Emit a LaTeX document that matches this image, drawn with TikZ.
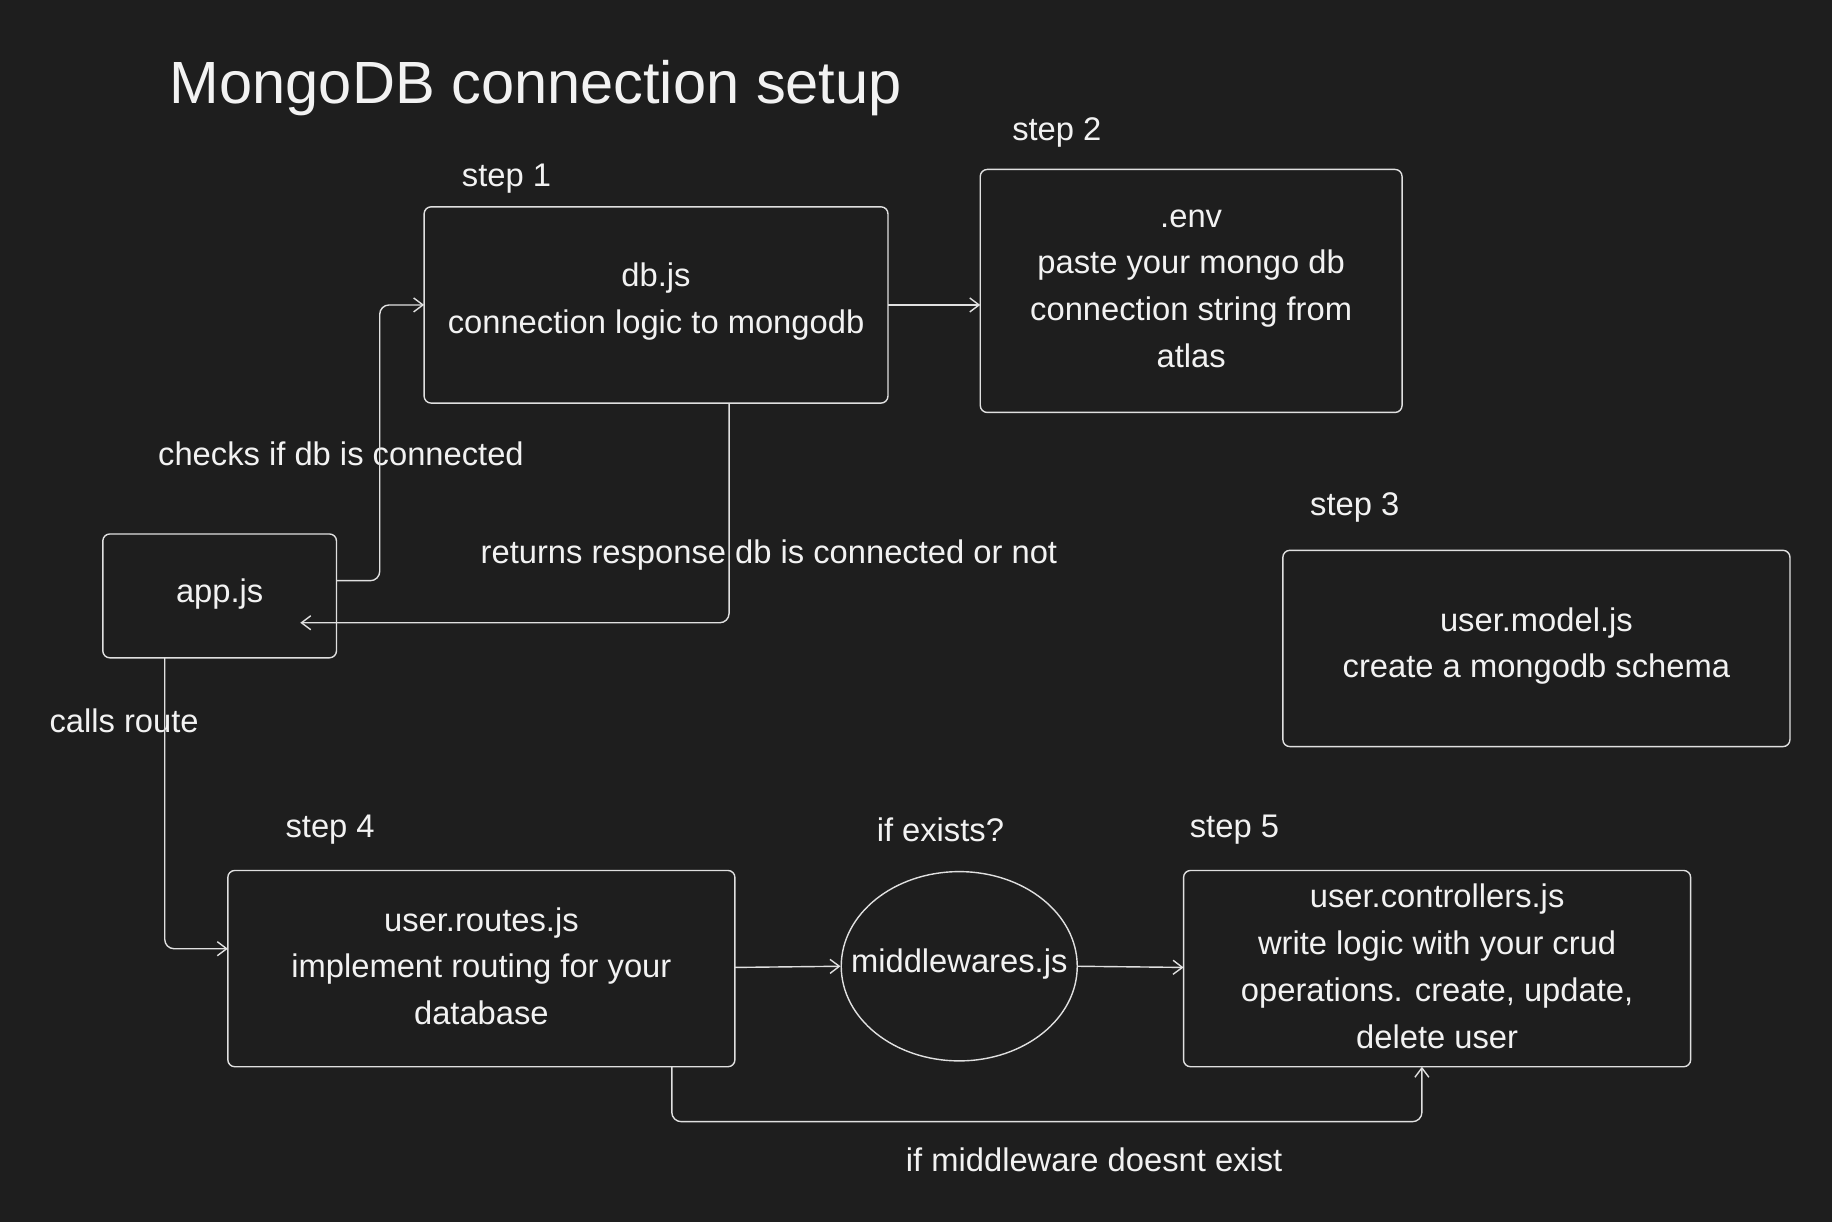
\documentclass[tikz,border=0pt]{standalone}
\usepackage{fontspec}
\setmainfont{Liberation Sans}
\usetikzlibrary{arrows.meta,shapes.geometric}
\begin{document}
\begin{tikzpicture}[x=0.5pt,y=-0.5pt,
  every node/.style={text=white!95!black,font=\fontsize{14}{20}\selectfont},
  box/.style={draw=white!88!black,line width=0.6pt,rounded corners=3pt},
  lbl/.style={anchor=west,inner sep=0},
  conn/.style={draw=white!88!black,line width=0.6pt,rounded corners=4pt,-{Straight Barb[length=4pt,width=6pt]}}]
\fill[fill={rgb,255:red,30;green,30;blue,30}] (0,0) rectangle (1568,1046);
\useasboundingbox (0,0) rectangle (1568,1046);
\node[lbl,font=\fontsize{25.5}{28}\selectfont] (title) at (145,75) {MongoDB connection setup};
\node[lbl] (s1) at (395,153) {step 1};
\node[lbl] (s2) at (866,113) {step 2};
\node[lbl] (s3) at (1121,434) {step 3};
\node[lbl] (s4) at (244,710) {step 4};
\node[lbl] (s5) at (1018,710) {step 5};
\node[lbl] (ie) at (750,710) {if exists?};
\node[lbl] (chk) at (135,388) {checks if db is connected};
\node[lbl] (ret) at (411,475) {returns response db is connected or not};
\node[lbl] (cr) at (42,617) {calls route};
\node[lbl] (nm) at (775,993) {if middleware doesnt exist};

\draw[box] (363,177) rectangle (760,345);
\coordinate (dbL) at (363,261); \coordinate (dbR) at (760,261); \coordinate (dbB) at (624,345);
\node[align=center] (dbt) at (561.5,258) {db.js\\connection logic to mongodb};
\draw[box] (839,145) rectangle (1200,353);
\coordinate (envL) at (839,261);
\node[align=center] (envt) at (1019.5,247) {.env\\paste your mongo db\\connection string from\\atlas};
\draw[box] (1098,471) rectangle (1532,639);
\node[align=center] (um) at (1315,553) {user.model.js\\create a mongodb schema};
\draw[box] (88,457) rectangle (288,563);
\node (app) at (188,508) {app.js};
\coordinate (appR) at (288,497); \coordinate (appIn) at (257,533); \coordinate (appB) at (141,563);
\draw[box] (195,745) rectangle (629,913);
\node[align=center] (rt) at (412,827) {user.routes.js\\implement routing for your\\database};
\coordinate (rtL) at (195,812); \coordinate (rtR) at (629,828); \coordinate (rtB) at (575,913);
\node[draw=white!88!black,line width=0.6pt,ellipse,minimum width=101pt,minimum height=81pt,inner sep=0] (mw) at (821,827) {};
\node (mwt) at (821,825) {middlewares.js};
\draw[box] (1013,745) rectangle (1447,913);
\node[align=center] (ct) at (1230,827) {user.controllers.js\\write logic with your crud\\operations. create, update,\\delete user};
\coordinate (ctL) at (1013,828); \coordinate (ctB) at (1217,913);

\draw[conn] (appR) -- (325,497) -- (325,261) -- (dbL);
\draw[conn] (dbR) -- (envL);
\draw[conn] (dbB) -- (624,533) -- (appIn);
\draw[conn] (appB) -- (141,812) -- (rtL);
\draw[conn] (rtR) -- (mw.west);
\draw[conn] (mw.east) -- (ctL);
\draw[conn] (rtB) -- (575,960) -- (1217,960) -- (ctB);
\end{tikzpicture}
\end{document}
